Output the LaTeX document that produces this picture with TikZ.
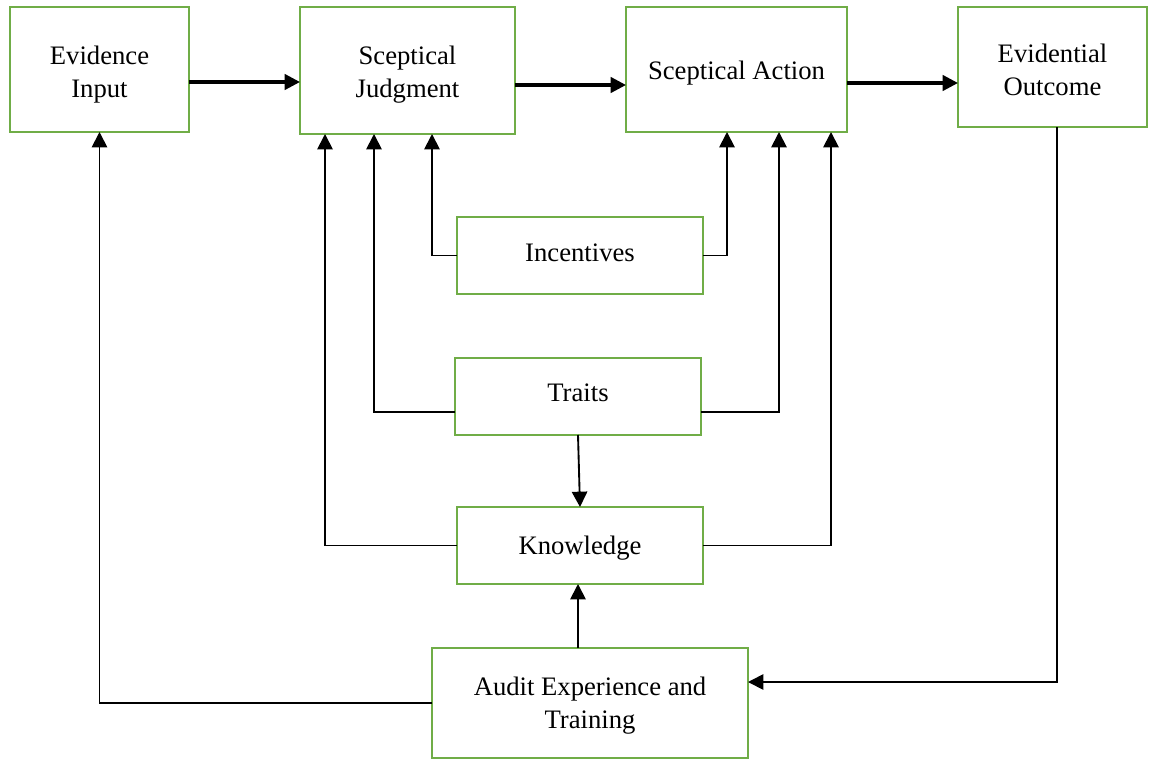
\documentclass[tikz,border=0pt]{standalone}
\usepackage{fontspec}
\setmainfont{Liberation Serif}
\usetikzlibrary{arrows.meta}
\definecolor{boxgreen}{RGB}{112,173,71}
\begin{document}
\begin{tikzpicture}[x=0.75pt,y=-0.75pt,
  box/.style={draw=boxgreen,line width=2.2pt,inner sep=0pt,outer sep=0pt},
  boxlabel/.style={inner sep=0pt,align=center,font=\fontsize{20}{24.75}\selectfont},
  arr/.style={draw=black,line width=1.4pt,-{Triangle[length=11.5pt,width=11.5pt]}},
  arrmain/.style={arr,line width=2.4pt}]
\useasboundingbox (0,0) rectangle (1149,760);
\fill[white] (0,0) rectangle (1149,760);
\node[box,minimum width=134.25pt,minimum height=93.75pt] (ei) at (99.5,69.5) {};
\node[box,minimum width=161.25pt,minimum height=95.25pt] (sj) at (407.5,70.5) {};
\node[box,minimum width=165.75pt,minimum height=93.75pt] (sa) at (736.5,69.5) {};
\node[box,minimum width=141.75pt,minimum height=90pt] (eo) at (1052.5,67) {};
\node[box,minimum width=184.5pt,minimum height=57.75pt] (inc) at (580,255.5) {};
\node[box,minimum width=184.5pt,minimum height=57.75pt] (tr) at (578,396.5) {};
\node[box,minimum width=184.5pt,minimum height=57.75pt] (kn) at (580,545.5) {};
\node[box,minimum width=237pt,minimum height=82.5pt] (au) at (590,703) {};
% labels
\node[boxlabel] (eit) at ([yshift=-3.75pt]ei.center) {Evidence\\Input};
\node[boxlabel] (sjt) at ([yshift=-3.2pt]sj.center) {Sceptical\\Judgment};
\node[boxlabel] (sat) at ([yshift=-3pt]sa.center) {Sceptical Action};
\node[boxlabel] (eot) at ([yshift=-2.5pt]eo.center) {Evidential\\Outcome};
\node[boxlabel] (inct) at ([yshift=2.25pt]inc.center) {Incentives};
\node[boxlabel] (trt) at ([yshift=3pt]tr.center) {Traits};
\node[boxlabel] (knt) at ([yshift=-2.25pt]kn.center) {Knowledge};
\node[boxlabel] (aut) at ([yshift=-2.25pt]au.center) {Audit Experience and\\Training};
% top chain
\coordinate (a1) at ([yshift=-9.375pt]ei.east);
\draw[arrmain] (a1) -- (a1 -| sj.west);
\coordinate (a2) at ([yshift=-10.875pt]sj.east);
\draw[arrmain] (a2) -- (a2 -| sa.west);
\coordinate (a3) at ([yshift=-10.125pt]sa.east);
\draw[arrmain] (a3) -- (a3 -| eo.west);
% targets on Sceptical Judgment
\coordinate (sjI) at ([xshift=18.375pt]sj.south);
\coordinate (sjT) at ([xshift=-25.125pt]sj.south);
\coordinate (sjK) at ([xshift=-61.875pt]sj.south);
% targets on Sceptical Action
\coordinate (saI) at ([xshift=-7.125pt]sa.south);
\coordinate (saT) at ([xshift=31.875pt]sa.south);
\coordinate (saK) at ([xshift=70.875pt]sa.south);
% incentives
\draw[arr] (inc.west) -| (sjI);
\draw[arr] (inc.east) -| (saI);
% traits
\coordinate (trL) at ([yshift=-11.625pt]tr.west);
\coordinate (trR) at ([yshift=-11.625pt]tr.east);
\draw[arr] (trL) -| (sjT);
\draw[arr] (trR) -| (saT);
\draw[arr] (tr.south) -- (kn.north);
% knowledge
\draw[arr] (kn.west) -| (sjK);
\draw[arr] (kn.east) -| (saK);
% audit
\coordinate (auT) at ([xshift=-9pt]au.north);
\draw[arr] (auT) -- (auT |- kn.south);
\draw[arr] (au.west) -| (ei.south);
% outcome feedback
\coordinate (eoB) at ([xshift=3.375pt]eo.south);
\coordinate (auE) at ([yshift=15.75pt]au.east);
\draw[arr] (eoB) -- (eoB |- auE) -- (auE);
\end{tikzpicture}
\end{document}
